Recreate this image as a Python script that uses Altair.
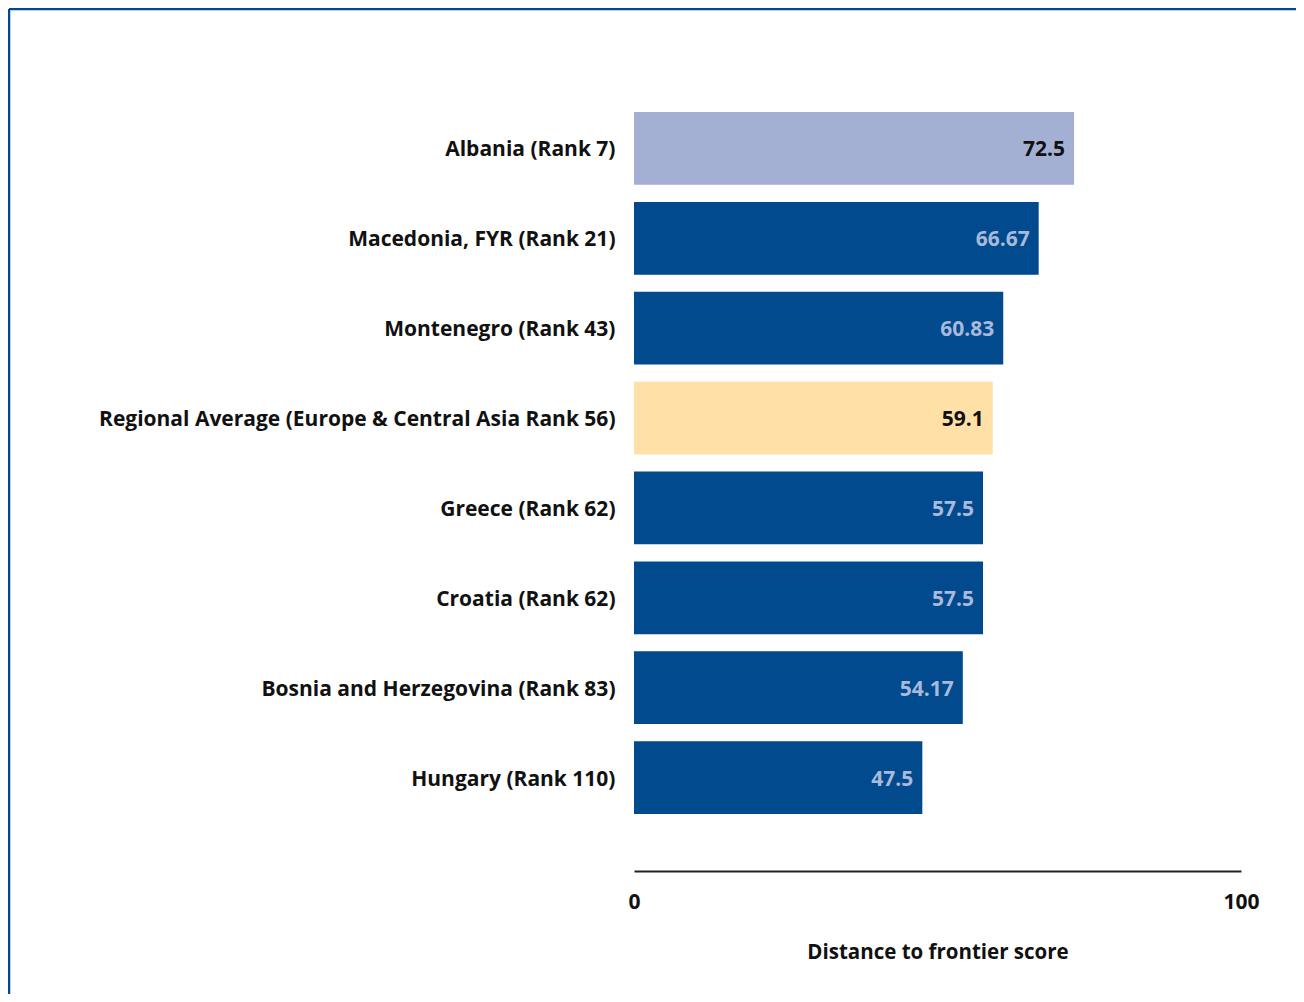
import altair as alt
import pandas as pd

labels = [
    "Albania (Rank 7)",
    "Macedonia, FYR (Rank 21)",
    "Montenegro (Rank 43)",
    "Regional Average (Europe & Central Asia Rank 56)",
    "Greece (Rank 62)",
    "Croatia (Rank 62)",
    "Bosnia and Herzegovina (Rank 83)",
    "Hungary (Rank 110)",
]
values = [72.5, 66.67, 60.83, 59.1, 57.5, 57.5, 54.17, 47.5]
value_text = ["72.5", "66.67", "60.83", "59.1", "57.5", "57.5", "54.17", "47.5"]
groups = ["Albania", "Other", "Other", "Regional", "Other", "Other", "Other", "Other"]

df = pd.DataFrame({"label": labels, "value": values, "txt": value_text, "group": groups})

FONT = "Open Sans"
FS = 21
BLUE = "#004A8D"

y_enc = alt.Y(
    "label:N",
    sort=labels,
    scale=alt.Scale(paddingInner=0.19, paddingOuter=0.1),
    axis=alt.Axis(
        title=None, domain=False, ticks=False, labelPadding=19, labelOffset=2,
        labelFont=FONT, labelFontSize=FS, labelFontWeight="bold",
        labelColor="#111111", labelLimit=0,
    ),
)

x_enc = alt.X(
    "value:Q",
    scale=alt.Scale(domain=[0, 100], nice=False, zero=True),
    axis=alt.Axis(
        values=[0, 100], ticks=False, grid=False, domainColor="#222222",
        domainWidth=2, offset=48, labelPadding=20, labelFont=FONT,
        labelFontSize=FS, labelFontWeight="bold", labelColor="#111111",
        title="Distance to frontier score", titleFont=FONT, titleFontSize=20.5,
        titleFontWeight="bold", titleColor="#111111", titlePadding=30,
        labelFlush=False,
    ),
)

bars = alt.Chart(df).mark_bar().encode(
    y=y_enc,
    x=x_enc,
    color=alt.Color(
        "group:N",
        scale=alt.Scale(domain=["Albania", "Regional", "Other"],
                        range=["#A4B0D3", "#FFE0A6", BLUE]),
        legend=None,
    ),
)

text = alt.Chart(df).mark_text(
    align="right", baseline="middle", dx=-9, dy=2, font=FONT, fontSize=FS, fontWeight="bold"
).encode(
    y=alt.Y("label:N", sort=labels),
    x=alt.X("value:Q"),
    text="txt:N",
    color=alt.Color(
        "group:N",
        scale=alt.Scale(domain=["Albania", "Regional", "Other"],
                        range=["#111111", "#111111", "#A9B9DB"]),
        legend=None,
    ),
)

one = pd.DataFrame({"k": [0]})
border_left = alt.Chart(one).mark_rule(color=BLUE, strokeWidth=2.5).encode(
    x=alt.value(-625), y=alt.value(-94), y2=alt.value(900)
)
border_top = alt.Chart(one).mark_rule(color=BLUE, strokeWidth=2.5).encode(
    y=alt.value(-94), x=alt.value(-625), x2=alt.value(700)
)

chart = alt.layer(bars, text, border_left, border_top).resolve_scale(
    color="independent"
).properties(
    width=607,
    height=720,
    autosize=alt.AutoSizeParams(type="none"),
    padding={"left": 626, "top": 95, "right": 55, "bottom": 171},
).configure_view(stroke=None)

chart.save("out.html", embed_options={"renderer": "svg", "actions": False})
